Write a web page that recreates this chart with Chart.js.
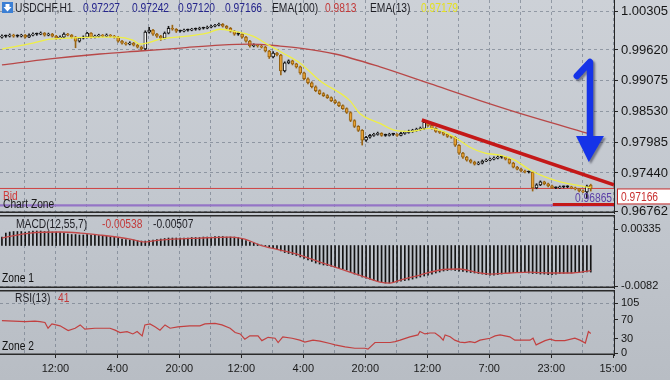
<!DOCTYPE html>
<html><head><meta charset="utf-8">
<script src="https://cdn.jsdelivr.net/npm/chart.js@4.4.1/dist/chart.umd.min.js"></script>
<style>
html,body{margin:0;padding:0;}
body{width:670px;height:380px;overflow:hidden;position:relative;background:linear-gradient(180deg,#cdd1d7 0%,#c3c8cf 50%,#b8bdc4 100%);}
canvas{position:absolute;left:0;top:0;}
</style></head><body>
<canvas id="cMain" width="670" height="380"></canvas>
<canvas id="cMacd" width="670" height="380"></canvas>
<canvas id="cRsi" width="670" height="380"></canvas>
<script>
const WIDE = "'Liberation Sans',Arial,sans-serif";

// ---------- data ----------
const tickLabels = ['12:00','4:00','20:00','12:00','4:00','20:00','12:00','7:00','23:00','15:00'];
const priceTicks = [0.96762,0.97440,0.97985,0.98530,0.99075,0.99620,1.00305];
const macdTicks = [0.00335,-0.0082];
const macdTickLabels = ['0.00335','-0.0082'];
const rsiTicks = [0,30,70,105];

const opens = [0.99848,0.99865,0.99865,0.99883,0.99865,0.99865,0.99883,0.99848,0.99883,0.99900,
 0.99900,0.99918,0.99883,0.99900,0.99865,0.99830,0.99848,0.99900,0.99883,0.99848,
 0.99777,0.99830,0.99848,0.99918,0.99848,0.99865,0.99883,0.99865,0.99883,0.99865,
 0.99848,0.99777,0.99742,0.99725,0.99742,0.99707,0.99672,0.99637,0.99936,0.99971,
 0.99900,0.99865,0.99830,0.99918,1.00006,0.99988,0.99953,0.99953,0.99971,0.99971,
 0.99988,0.99988,1.00006,1.00006,1.00023,1.00041,1.00059,1.00076,1.00041,1.00006,
 0.99953,0.99900,0.99900,0.99848,0.99777,0.99690,0.99707,0.99690,0.99672,0.99602,
 0.99496,0.99567,0.99531,0.99250,0.99391,0.99426,0.99373,0.99320,0.99215,0.99110,
 0.99039,0.98969,0.98899,0.98846,0.98811,0.98776,0.98723,0.98688,0.98635,0.98582,
 0.98512,0.98371,0.98266,0.98196,0.98020,0.98073,0.98108,0.98125,0.98143,0.98108,
 0.98108,0.98125,0.98125,0.98108,0.98143,0.98161,0.98178,0.98196,0.98213,0.98231,
 0.98336,0.98284,0.98231,0.98178,0.98161,0.98125,0.98090,0.98073,0.97932,0.97791,
 0.97721,0.97668,0.97633,0.97598,0.97616,0.97651,0.97668,0.97686,0.97704,0.97721,
 0.97721,0.97686,0.97616,0.97545,0.97510,0.97475,0.97458,0.97458,0.97176,0.97229,
 0.97282,0.97247,0.97211,0.97176,0.97176,0.97194,0.97194,0.97194,0.97176,0.97159,
 0.97124,0.97106,0.97227];
const highs = [0.99890,0.99885,0.99905,0.99900,0.99890,0.99900,0.99895,0.99905,0.99925,0.99920,
 0.99940,0.99930,0.99920,0.99915,0.99880,0.99870,0.99925,0.99915,0.99895,0.99860,
 0.99845,0.99870,0.99935,0.99930,0.99885,0.99900,0.99895,0.99905,0.99895,0.99880,
 0.99860,0.99790,0.99760,0.99765,0.99755,0.99720,0.99690,0.99960,1.00020,0.99985,
 0.99915,0.99880,0.99940,1.00040,1.00060,1.00000,0.99975,0.99990,0.99990,1.00005,
 1.00010,1.00025,1.00025,1.00045,1.00060,1.00075,1.00095,1.00090,1.00055,1.00020,
 0.99965,0.99935,0.99910,0.99860,0.99790,0.99730,0.99720,0.99705,0.99685,0.99615,
 0.99590,0.99580,0.99545,0.99410,0.99445,0.99440,0.99385,0.99335,0.99230,0.99125,
 0.99055,0.98985,0.98915,0.98865,0.98830,0.98790,0.98740,0.98700,0.98650,0.98595,
 0.98525,0.98385,0.98280,0.98210,0.98090,0.98125,0.98145,0.98165,0.98155,0.98130,
 0.98145,0.98145,0.98140,0.98165,0.98180,0.98200,0.98215,0.98235,0.98255,0.98360,
 0.98350,0.98300,0.98245,0.98195,0.98175,0.98140,0.98105,0.98085,0.97945,0.97805,
 0.97735,0.97685,0.97650,0.97640,0.97670,0.97690,0.97705,0.97725,0.97745,0.97740,
 0.97735,0.97700,0.97630,0.97560,0.97525,0.97490,0.97475,0.97470,0.97250,0.97300,
 0.97295,0.97260,0.97225,0.97195,0.97210,0.97210,0.97215,0.97205,0.97190,0.97170,
 0.97140,0.97225,0.97242];
const lows = [0.99830,0.99845,0.99850,0.99845,0.99848,0.99850,0.99830,0.99840,0.99870,0.99880,
 0.99890,0.99865,0.99870,0.99850,0.99810,0.99815,0.99835,0.99870,0.99830,0.99660,
 0.99760,0.99815,0.99835,0.99830,0.99835,0.99850,0.99850,0.99855,0.99850,0.99830,
 0.99760,0.99725,0.99705,0.99710,0.99690,0.99655,0.99610,0.99620,0.99920,0.99880,
 0.99845,0.99790,0.99815,0.99905,0.99970,0.99930,0.99935,0.99940,0.99955,0.99960,
 0.99970,0.99975,0.99990,0.99995,1.00010,1.00030,1.00045,1.00025,0.99990,0.99935,
 0.99880,0.99880,0.99830,0.99760,0.99670,0.99675,0.99670,0.99655,0.99585,0.99470,
 0.99480,0.99515,0.99180,0.99230,0.99375,0.99355,0.99300,0.99190,0.99090,0.99020,
 0.98950,0.98880,0.98830,0.98795,0.98760,0.98705,0.98670,0.98615,0.98565,0.98495,
 0.98350,0.98245,0.98175,0.97935,0.98000,0.98055,0.98090,0.98110,0.98090,0.98090,
 0.98095,0.98105,0.98090,0.98095,0.98125,0.98145,0.98160,0.98180,0.98195,0.98215,
 0.98265,0.98215,0.98160,0.98140,0.98105,0.98070,0.98055,0.97910,0.97770,0.97700,
 0.97650,0.97615,0.97580,0.97585,0.97600,0.97640,0.97655,0.97670,0.97690,0.97700,
 0.97670,0.97600,0.97530,0.97495,0.97460,0.97440,0.97440,0.97120,0.97160,0.97215,
 0.97230,0.97195,0.97160,0.97160,0.97165,0.97175,0.97180,0.97160,0.97140,0.97105,
 0.97090,0.96990,0.97120];
const closes = [0.99865,0.99865,0.99883,0.99865,0.99865,0.99883,0.99848,0.99883,0.99900,0.99900,
 0.99918,0.99883,0.99900,0.99865,0.99830,0.99848,0.99900,0.99883,0.99848,0.99777,
 0.99830,0.99848,0.99918,0.99848,0.99865,0.99883,0.99865,0.99883,0.99865,0.99848,
 0.99777,0.99742,0.99725,0.99742,0.99707,0.99672,0.99637,0.99936,0.99971,0.99900,
 0.99865,0.99830,0.99918,1.00006,0.99988,0.99953,0.99953,0.99971,0.99971,0.99988,
 0.99988,1.00006,1.00006,1.00023,1.00041,1.00059,1.00076,1.00041,1.00006,0.99953,
 0.99900,0.99900,0.99848,0.99777,0.99690,0.99707,0.99690,0.99672,0.99602,0.99496,
 0.99567,0.99531,0.99250,0.99391,0.99426,0.99373,0.99320,0.99215,0.99110,0.99039,
 0.98969,0.98899,0.98846,0.98811,0.98776,0.98723,0.98688,0.98635,0.98582,0.98512,
 0.98371,0.98266,0.98196,0.98020,0.98073,0.98108,0.98125,0.98143,0.98108,0.98108,
 0.98125,0.98125,0.98108,0.98143,0.98161,0.98178,0.98196,0.98213,0.98231,0.98336,
 0.98284,0.98231,0.98178,0.98161,0.98125,0.98090,0.98073,0.97932,0.97791,0.97721,
 0.97668,0.97633,0.97598,0.97616,0.97651,0.97668,0.97686,0.97704,0.97721,0.97721,
 0.97686,0.97616,0.97545,0.97510,0.97475,0.97458,0.97458,0.97176,0.97229,0.97282,
 0.97247,0.97211,0.97176,0.97176,0.97194,0.97194,0.97194,0.97176,0.97159,0.97124,
 0.97106,0.97210,0.97166];

const ema100Pts = [[0,0.99356],[12.4,0.99461],[25.3,0.99549],[35.6,0.99602],[46,0.99654],[56.3,0.99707],
 [64,0.99725],[71.8,0.99690],[76.9,0.99654],[86,0.99549],[97.6,0.99320],[110.5,0.99022],[123.4,0.98723],
 [136.3,0.98442],[152,0.98130]];
const ema13Pts = [[0,0.99637],[8,0.99742],[12.4,0.99812],[16.8,0.99830],[25.3,0.99848],[29.7,0.99848],
 [33.8,0.99795],[35.6,0.99725],[37.4,0.99742],[40.8,0.99812],[42.6,0.99830],[47.8,0.99865],[52.9,0.99918],
 [56.3,0.99988],[59.6,0.99953],[64.8,0.99865],[68.4,0.99725],[72.5,0.99567],[76.9,0.99391],[82.1,0.99074],
 [89.8,0.98723],[92.4,0.98494],[97.6,0.98319],[101.5,0.98196],[105.3,0.98178],[110.5,0.98231],[114.4,0.98161],
 [116.9,0.98073],[120.8,0.97897],[124.7,0.97791],[128.6,0.97756],[132.4,0.97668],[136.3,0.97493],
 [140.2,0.97370],[144.1,0.97282],[147.9,0.97229],[152,0.97179]];

const macdHist = [0.00172,0.00253,0.00274,0.00284,0.00284,0.00284,0.00274,0.00284,0.00294,0.00294,
 0.00294,0.00284,0.00284,0.00274,0.00274,0.00263,0.00253,0.00233,0.00223,0.00223,
 0.00213,0.00213,0.00223,0.00213,0.00213,0.00203,0.00203,0.00192,0.00172,0.00172,
 0.00152,0.00132,0.00122,0.00111,0.00111,0.00101,0.00091,0.00091,0.00101,0.00111,
 0.00122,0.00132,0.00142,0.00152,0.00152,0.00152,0.00152,0.00152,0.00152,0.00162,
 0.00162,0.00162,0.00172,0.00172,0.00172,0.00182,0.00182,0.00182,0.00172,0.00172,
 0.00172,0.00162,0.00142,0.00101,0.00071,0.00051,0.00030,0.00010,-0.00010,-0.00030,
 -0.00051,-0.00071,-0.00111,-0.00142,-0.00162,-0.00182,-0.00203,-0.00233,-0.00263,-0.00294,
 -0.00324,-0.00355,-0.00375,-0.00395,-0.00405,-0.00420,-0.00436,-0.00456,-0.00476,-0.00496,
 -0.00537,-0.00578,-0.00598,-0.00638,-0.00659,-0.00680,-0.00710,-0.00730,-0.00745,-0.00760,
 -0.00760,-0.00750,-0.00740,-0.00720,-0.00710,-0.00699,-0.00680,-0.00659,-0.00638,-0.00618,
 -0.00598,-0.00578,-0.00557,-0.00537,-0.00517,-0.00506,-0.00496,-0.00506,-0.00517,-0.00527,
 -0.00537,-0.00547,-0.00557,-0.00567,-0.00578,-0.00588,-0.00598,-0.00598,-0.00588,-0.00578,
 -0.00567,-0.00557,-0.00547,-0.00537,-0.00537,-0.00547,-0.00557,-0.00567,-0.00567,-0.00578,
 -0.00578,-0.00588,-0.00588,-0.00578,-0.00567,-0.00567,-0.00557,-0.00557,-0.00547,-0.00547,
 -0.00547,-0.00537,-0.00538];
const macdSignalPts = [[0,0.00152],[7.2,0.00253],[15,0.00274],[20.2,0.00253],[25.3,0.00213],[33.1,0.00132],
 [36.9,0.00071],[40.8,0.00111],[51.1,0.00152],[58.9,0.00172],[62.7,0.00132],[66.6,0.00010],[71.8,-0.00091],
 [76.9,-0.00193],[82.1,-0.00334],[86,-0.00436],[89.8,-0.00537],[93.7,-0.00638],[97.6,-0.00740],
 [100.2,-0.00760],[102.8,-0.00699],[107.9,-0.00598],[113.1,-0.00496],[118.2,-0.00476],[122.1,-0.00537],
 [126,-0.00578],[131.1,-0.00557],[136.3,-0.00537],[141.5,-0.00557],[146.6,-0.00557],[152,-0.00507]];

const rsiPts = [[0,68],[6,66],[8.5,67],[9.8,66],[11.1,64],[11.9,52],[12.9,61],[15,57],[17.1,47],[18.9,52],
 [20.2,59],[21.4,50],[24,52],[27.9,52],[29.2,48],[30.5,43],[32.3,45],[33.8,40],[34.9,45],[36.2,36],
 [36.9,59],[38.2,61],[39.5,55],[40.8,48],[42.1,59],[43.4,52],[45.4,55],[48.5,57],[51.1,57],[52.4,61],
 [55,62],[56.8,59],[58.9,52],[60.2,43],[61.5,40],[62.7,29],[64,36],[66.1,36],[67.1,26],[68.7,33],
 [70.5,31],[71.3,22],[72.5,34],[74.9,31],[76.9,27],[78.2,23],[80.3,27],[82.1,25],[84.7,20],[86,17],
 [88.6,13],[91.1,10],[93.7,10],[94.5,8],[96.3,22],[97.6,22],[100.2,22],[101.5,24],[102.8,27],[105.3,34],
 [107.4,38],[107.9,45],[109.2,40],[110.5,42],[111.8,42],[113.1,34],[113.9,27],[114.4,38],[115.7,34],
 [116.9,27],[118.2,23],[119.5,22],[120.8,24],[122.1,22],[123.4,27],[126,31],[127.3,36],[128.6,38],
 [131.1,34],[132.4,27],[136.3,27],[137.1,31],[137.9,17],[140.2,26],[141.5,29],[142.8,26],[145.3,26],
 [147.9,31],[149.2,27],[150.6,21],[151.4,45],[152,41]];

const bidPrice = 0.97166;
const zonePrice = 0.96865;
const trendLinePts = [[108.4,0.98379],[158,0.97232]];
const supportLinePts = [[142.2,0.96880],[158,0.96880]];
const arrowPts = {hook:[148.4,0.99159], top:[151.8,0.99407], shaftEnd:[151.8,0.98025],
  headL:[148.2,0.98096], headR:[155.4,0.98096], tip:[151.5,0.97635]};

// ---------- layout ----------
const X_MIN = -0.5, X_MAX = 158, GRID_START = 5.8, GRID_STEP = 8;
const gridPos = Array.from({length: 20}, (_, k) => GRID_START + k * GRID_STEP);
const GRID = 'rgba(105,115,130,0.6)';
const AXIS = '#242424';
const SMALL = {family: WIDE, size: 11};

function xScale(showLabels) {
  return {
    type: 'linear', min: X_MIN, max: X_MAX, offset: false,
    afterBuildTicks: s => { s.ticks = gridPos.map(v => ({value: v})); },
    afterFit: s => { s.paddingLeft = 0; s.paddingRight = 0; s.height = showLabels ? 25 : 0; },
    grid: {color: GRID, lineWidth: 1, offset: false, drawTicks: showLabels, tickLength: 3,
      tickColor: c => (c.index % 2 === 1) ? AXIS : 'rgba(0,0,0,0)'},
    border: {display: false, dash: [3, 3]},
    ticks: {display: showLabels, autoSkip: false, maxRotation: 0, minRotation: 0, padding: 4,
      color: '#1a1a1a', font: SMALL,
      callback: (v, i) => (i % 2 === 1 ? tickLabels[(i - 1) / 2] : '')}
  };
}
function yScale(min, max, ticks, labelFn, font, gridColor) {
  return {
    position: 'right', min, max,
    afterBuildTicks: s => { s.ticks = ticks.map(v => ({value: v})); },
    afterFit: s => { s.width = 56; s.paddingTop = 0; s.paddingBottom = 0; },
    grid: {color: gridColor, lineWidth: 1, drawTicks: true, tickLength: 4, tickColor: AXIS},
    border: {display: true, color: AXIS, width: 1, dash: [3, 3]},
    ticks: {autoSkip: false, padding: 3, color: '#151515', font, callback: (v, i) => labelFn(v, i)}
  };
}
function framePlugin(drawTop) {
  return {id: 'frame', afterDraw(chart) {
    const {ctx, chartArea: a} = chart;
    ctx.save(); ctx.strokeStyle = '#2a2a2a'; ctx.lineWidth = 1.5; ctx.beginPath();
    if (drawTop) { ctx.moveTo(0, a.top + 0.75); ctx.lineTo(a.right, a.top + 0.75); }
    ctx.moveTo(0, a.bottom - 0.75); ctx.lineTo(a.right, a.bottom - 0.75);
    ctx.stroke(); ctx.restore();
  }};
}
// narrow text: Liberation Sans squeezed horizontally (like Arial Narrow)
function txt(ctx, s, x, y, color) {
  ctx.save();
  ctx.translate(x, y); ctx.scale(0.82, 1);
  ctx.font = "12.5px 'Liberation Sans',Arial,sans-serif";
  ctx.fillStyle = color; ctx.textBaseline = 'alphabetic'; ctx.textAlign = 'left';
  ctx.fillText(s, 0, 0);
  ctx.restore();
}
const pts = arr => arr.map(([x, y]) => ({x, y}));
const common = {responsive: false, animation: false, events: [],
  plugins: {legend: {display: false}, tooltip: {enabled: false}}};

// ---------- main price panel ----------
const idx = closes.map((_, i) => i);
const up = i => closes[i] >= opens[i];
const doji = i => Math.abs(closes[i] - opens[i]) < 0.00006;

const mainOverlay = {id: 'mainOverlay', afterDraw(chart) {
  const {ctx} = chart; const xs = chart.scales.x, ys = chart.scales.y;
  const P = p => [xs.getPixelForValue(p[0]), ys.getPixelForValue(p[1])];
  // blue arrow
  ctx.save();
  ctx.shadowColor = 'rgba(20,20,40,0.45)'; ctx.shadowOffsetX = 2; ctx.shadowOffsetY = 2; ctx.shadowBlur = 2;
  ctx.strokeStyle = '#1533e8'; ctx.fillStyle = '#1533e8'; ctx.lineWidth = 6.5; ctx.lineCap = 'round'; ctx.lineJoin = 'round';
  ctx.beginPath(); ctx.moveTo(...P(arrowPts.hook)); ctx.lineTo(...P(arrowPts.top)); ctx.lineTo(...P(arrowPts.shaftEnd)); ctx.stroke();
  ctx.beginPath(); ctx.moveTo(...P(arrowPts.headL)); ctx.lineTo(...P(arrowPts.headR)); ctx.lineTo(...P(arrowPts.tip)); ctx.closePath(); ctx.fill();
  ctx.restore();
  // header
  ctx.save();
  ctx.fillStyle = '#3b7fd4'; ctx.fillRect(2, 2, 11, 11);
  ctx.fillStyle = '#ffffff'; ctx.beginPath();
  ctx.moveTo(5.5, 4); ctx.lineTo(9.5, 4); ctx.lineTo(9.5, 7); ctx.lineTo(11.5, 7); ctx.lineTo(7.5, 11.5); ctx.lineTo(3.5, 7); ctx.lineTo(5.5, 7); ctx.closePath(); ctx.fill();
  ctx.restore();
  txt(ctx, 'USDCHF,H1', 15, 12, '#1e1e24');
  txt(ctx, '0.97227', 83, 12, '#25258c');
  txt(ctx, '0.97242', 132, 12, '#25258c');
  txt(ctx, '0.97120', 178, 12, '#25258c');
  txt(ctx, '0.97166', 225, 12, '#25258c');
  txt(ctx, 'EMA(100)', 272, 12, '#1e1e24');
  txt(ctx, '0.9813', 325, 12, '#c23a3a');
  txt(ctx, 'EMA(13)', 370, 12, '#1e1e24');
  txt(ctx, '0.97179', 421, 12, '#e4e024');
  // labels of horizontal lines
  txt(ctx, 'Bid', 3, 200, '#d03a3a');
  txt(ctx, 'Chart Zone', 3, 208, '#1a1a1a');
  txt(ctx, zonePrice.toFixed(5), 575, 202, '#5b3fa6');
  // price box
  const yb = ys.getPixelForValue(bidPrice);
  ctx.save();
  ctx.fillStyle = '#ffffff'; ctx.fillRect(617.5, yb + 0.5, 53, 15);
  ctx.strokeStyle = '#c42a2a'; ctx.lineWidth = 1; ctx.strokeRect(617.5, yb + 0.5, 53, 15);
  ctx.restore();
  txt(ctx, bidPrice.toFixed(5), 621, yb + 12.5, '#c83030');
}};

new Chart(document.getElementById('cMain'), {
  type: 'bar',
  data: {datasets: [
    {type: 'line', label: 'trend', data: pts(trendLinePts), borderColor: '#c41818', borderWidth: 3.5, pointRadius: 0, order: 0},
    {type: 'line', label: 'support', data: pts(supportLinePts), borderColor: '#c41818', borderWidth: 3, pointRadius: 0, order: 0},
    {type: 'line', label: 'EMA(13)', data: pts(ema13Pts), borderColor: '#efef45', borderWidth: 1.3, pointRadius: 0, cubicInterpolationMode: 'monotone', order: 1},
    {type: 'line', label: 'EMA(100)', data: pts(ema100Pts), borderColor: '#b84848', borderWidth: 1.3, pointRadius: 0, cubicInterpolationMode: 'monotone', order: 2},
    {type: 'bar', label: 'body', data: idx.map(i => ({x: i, y: [opens[i], closes[i]]})),
      barThickness: 3, minBarLength: 1, borderSkipped: false, borderWidth: 1, grouped: false, order: 3,
      backgroundColor: c => { const i = c.dataIndex; if (i === undefined) return '#000'; return doji(i) ? '#111' : (up(i) ? '#f2f2f2' : '#e8a235'); },
      borderColor: c => { const i = c.dataIndex; if (i === undefined) return '#000'; return up(i) ? '#151515' : '#94600f'; }},
    {type: 'bar', label: 'wick', data: idx.map(i => ({x: i, y: [lows[i], highs[i]]})),
      barThickness: 1, borderWidth: 0, grouped: false, order: 4,
      backgroundColor: c => { const i = c.dataIndex; if (i === undefined) return '#000'; return up(i) ? '#151515' : '#9a6414'; }},
    {type: 'line', label: 'Bid', data: [{x: X_MIN, y: bidPrice}, {x: X_MAX, y: bidPrice}], borderColor: '#cf4242', borderWidth: 1, pointRadius: 0, order: 5},
    {type: 'line', label: 'Chart Zone', data: [{x: X_MIN, y: zonePrice}, {x: X_MAX, y: zonePrice}], borderColor: '#9474c6', borderWidth: 2.2, pointRadius: 0, order: 6}
  ]},
  options: Object.assign({}, common, {
    layout: {padding: {top: 0, bottom: 167, left: 0, right: 0}, autoPadding: false},
    scales: {
      x: xScale(false),
      y: yScale(0.96731, 1.00506, priceTicks, v => v.toFixed(5), {family: WIDE, size: 13}, GRID)
    }
  }),
  plugins: [framePlugin(false), mainOverlay]
});

// ---------- MACD panel ----------
new Chart(document.getElementById('cMacd'), {
  type: 'bar',
  data: {datasets: [
    {type: 'line', label: 'signal', data: pts(macdSignalPts), borderColor: '#c24848', borderWidth: 1.3, pointRadius: 0, cubicInterpolationMode: 'monotone', order: 0},
    {type: 'bar', label: 'MACD', data: macdHist.map((v, i) => ({x: i, y: v})), barThickness: 1, backgroundColor: '#141414', borderWidth: 0, grouped: false, order: 1}
  ]},
  options: Object.assign({}, common, {
    layout: {padding: {top: 215, bottom: 92, left: 0, right: 0}, autoPadding: false},
    scales: {
      x: xScale(false),
      y: yScale(-0.008605, 0.006187, macdTicks, (v, i) => macdTickLabels[i], SMALL,
        c => (c.index === 1 ? GRID : 'rgba(0,0,0,0)'))
    }
  }),
  plugins: [framePlugin(true), {id: 'macdText', afterDraw(chart) {
    const ctx = chart.ctx;
    txt(ctx, 'MACD(12,55,7)', 16, 228, '#1e1e24');
    txt(ctx, '-0.00538', 102, 228, '#c23a3a');
    txt(ctx, '-0.00507', 153, 228, '#1e1e24');
    txt(ctx, 'Zone 1', 2, 282, '#111');
  }}]
});

// ---------- RSI panel ----------
new Chart(document.getElementById('cRsi'), {
  type: 'line',
  data: {datasets: [
    {label: 'RSI(13)', data: pts(rsiPts), borderColor: '#c24040', borderWidth: 1.2, pointRadius: 0, tension: 0}
  ]},
  options: Object.assign({}, common, {
    layout: {padding: {top: 290, bottom: 0, left: 0, right: 0}, autoPadding: false},
    scales: {
      x: xScale(true),
      y: yScale(-4.2, 132.3, rsiTicks, v => String(v), SMALL,
        c => (c.tick && c.tick.value === 105 ? GRID : 'rgba(0,0,0,0)'))
    }
  }),
  plugins: [framePlugin(true), {id: 'rsiText', afterDraw(chart) {
    const ctx = chart.ctx;
    txt(ctx, 'RSI(13)', 15, 302, '#1e1e24');
    txt(ctx, '41', 58, 302, '#c23a3a');
    txt(ctx, 'Zone 2', 2, 350, '#111');
  }}]
});
</script>
</body></html>
